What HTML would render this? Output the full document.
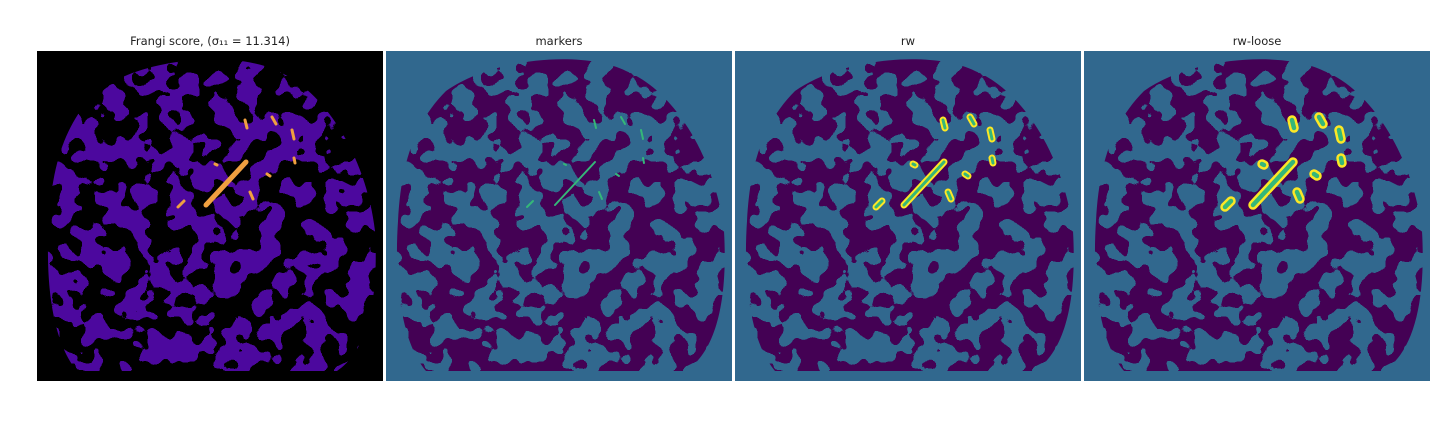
<!DOCTYPE html>
<html><head><meta charset="utf-8">
<style>
html,body{margin:0;padding:0;background:#fff;width:1440px;height:432px;overflow:hidden}
svg{display:block}
text{font-family:"DejaVu Sans","Liberation Sans",sans-serif;font-size:11.5px;fill:#222}
</style></head>
<body>
<svg id="fig" width="1440" height="432">
<defs>
 <filter id="blobP" x="0" y="0" width="100%" height="100%" filterUnits="objectBoundingBox" color-interpolation-filters="sRGB">
  <feTurbulence type="fractalNoise" baseFrequency="0.045" numOctaves="2" seed="7" result="n"/>
  <feColorMatrix in="n" type="matrix" values="0 0 0 0 0.267  0 0 0 0 0.004  0 0 0 0 0.329  1.6 0 0 0 -0.3" result="c"/>
  <feComponentTransfer in="c"><feFuncA type="discrete" tableValues="0 0 0 0 0 1 1 1 1 1"/></feComponentTransfer>
 </filter>
 <filter id="blobF" x="0" y="0" width="100%" height="100%" filterUnits="objectBoundingBox" color-interpolation-filters="sRGB">
  <feTurbulence type="fractalNoise" baseFrequency="0.045" numOctaves="2" seed="7" result="n"/>
  <feColorMatrix in="n" type="matrix" values="0 0 0 0 0.30  0 0 0 0 0.03  0 0 0 0 0.62  1.6 0 0 0 -0.3" result="c"/>
  <feComponentTransfer in="c"><feFuncA type="discrete" tableValues="1 1 1 1 1 0 0 0 0 0"/></feComponentTransfer>
 </filter>
 <clipPath id="region"><path d="M60,40 C110,5 200,0 240,20 C290,40 330,110 338,180 C342,250 330,300 300,320 L40,320 C15,290 8,230 12,170 C15,110 30,70 60,40 Z"/></clipPath>
</defs>
</svg>
<script>
const panelTitles = ["Frangi score, (σ₁₁ = 11.314)", "markers", "rw", "rw-loose"];
const panelX = [37, 386, 735, 1084];
const vesselX1 = [169, 141, 208, 235, 255, 257, 213, 230, 178];
const vesselY1 = [154, 156, 69, 66, 79, 107, 141, 123, 113];
const vesselX2 = [209, 147, 210, 239, 257, 258, 216, 233, 180];
const vesselY2 = [111, 150, 77, 73, 88, 112, 148, 125, 114];
const vesselWidthScale = [0, 0.6, 1, 1.5];
const NS = "http://www.w3.org/2000/svg";
const fig = document.getElementById('fig');
const W = 346, H = 330, Y0 = 51;
function mk(tag, attrs, parent){const e=document.createElementNS(NS,tag);for(const k in attrs)e.setAttribute(k,attrs[k]);parent.appendChild(e);return e;}
panelTitles.forEach((t,i)=>{
  const g = mk('g',{transform:`translate(${panelX[i]},${Y0})`},fig);
  
  
  const bg = mk('rect',{x:0,y:0,width:W,height:H,fill:i===0?'#000':'#31688e'},g);
  
  
  const cg = mk('g',{'clip-path':'url(#region)'},g);
  const bl = mk('rect',{x:0,y:0,width:W,height:H,filter:i===0?'url(#blobF)':'url(#blobP)'},cg);
  
  
  vesselX1.forEach((x1,j)=>{
    const x2=vesselX2[j], y1=vesselY1[j], y2=vesselY2[j];
    if(i===0){
      const l=mk('line',{x1,y1,x2,y2,stroke:'#f0a040','stroke-width':j===0?5:3,'stroke-linecap':'round'},g);
      
      
    } else {
      const s=vesselWidthScale[i];
      if(i>=2){
        const o=mk('line',{x1,y1,x2,y2,stroke:'#fde725','stroke-width':5*s+2,'stroke-linecap':'round'},g);
        
        
      }
      const l=mk('line',{x1,y1,x2,y2,stroke:'#35b779','stroke-width':Math.max(2,3*s),'stroke-linecap':'round'},g);
      
      
    }
  });
  const tt = mk('text',{x:panelX[i]+W/2,y:45,'text-anchor':'middle'},fig);
  tt.textContent = t;
  
  
});
</script>
</body></html>
